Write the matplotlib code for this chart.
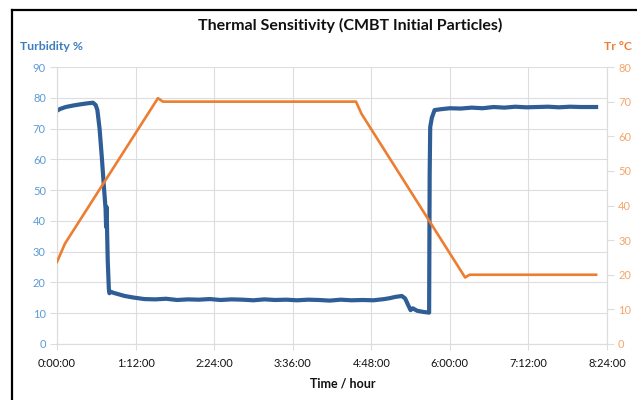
"""Thermal sensitivity chart: turbidity and reactor temperature vs time."""

import matplotlib
matplotlib.use("Agg")
import matplotlib.pyplot as plt
from matplotlib.lines import Line2D
from matplotlib.ticker import FixedLocator, FuncFormatter

# turbidity (%), time in minutes
turb_time = [
    0, 3, 8, 15, 22, 28, 33, 35.5, 37, 39, 41, 43, 44.5, 45, 45.5, 46, 46.5,
    47.5, 48, 49, 52, 56, 62, 70, 80, 90, 100, 110, 120, 130, 140, 150, 160,
    170, 180, 190, 200, 210, 220, 230, 240, 250, 260, 270, 280, 290, 300,
    305, 310, 316, 319, 322, 324, 326, 330, 336, 341, 341.5, 342, 343.5, 346,
    352, 360, 370, 380, 390, 400, 410, 420, 430, 440, 450, 460, 470, 480, 494,
]
turbidity = [
    75.8, 76.4, 77.0, 77.5, 77.9, 78.2, 78.4, 77.6, 76.0, 70.0, 61.0, 51.0,
    44.0, 38.0, 44.5, 35.0, 27.0, 18.0, 16.5, 17.0, 16.6, 16.2, 15.6, 15.1,
    14.6, 14.5, 14.7, 14.3, 14.5, 14.4, 14.6, 14.3, 14.5, 14.4, 14.2, 14.5,
    14.3, 14.4, 14.2, 14.4, 14.3, 14.1, 14.4, 14.2, 14.3, 14.2, 14.6,
    14.9, 15.3, 15.6, 14.8, 12.5, 11.0, 11.6, 10.8, 10.4, 10.2, 55.0, 70.5,
    73.5, 76.0, 76.3, 76.6, 76.5, 76.8, 76.6, 77.0, 76.8, 77.1, 76.9, 77.0,
    77.1, 76.9, 77.1, 77.0, 77.0,
]

# reactor temperature (degC)
temp_time = [0, 7.3, 92.5, 97, 274, 279, 374, 378, 494]
temperature = [23.7, 29.0, 71.0, 70.0, 70.0, 66.5, 19.2, 20.0, 20.0]

x_ticks = [0, 72, 144, 216, 288, 360, 432, 504]

BLUE = "#2F5D95"
ORANGE = "#ED7D31"
GRID = "#DDDDDD"


def hms(v, _pos=None):
    m = int(round(v))
    return f"{m // 60}:{m % 60:02d}:00"


plt.rcParams["font.family"] = ["Lato", "DejaVu Sans"]

fig = plt.figure(figsize=(6.37, 4.0), dpi=100)
ax = fig.add_axes([57 / 637, 56 / 400, 550 / 637, 277 / 400])
ax2 = ax.twinx()

ax.plot(turb_time, turbidity, color=BLUE, lw=3.0, solid_joinstyle="round", zorder=3)
ax2.plot(temp_time, temperature, color=ORANGE, lw=1.9, solid_joinstyle="round", zorder=3)

ax.set_xlim(0, 504)
ax.set_ylim(0, 90)
ax2.set_ylim(0, 80)
ax.xaxis.set_major_locator(FixedLocator(x_ticks))
ax.xaxis.set_major_formatter(FuncFormatter(hms))
ax.set_yticks(range(0, 91, 10))
ax2.set_yticks(range(0, 81, 10))

ax.grid(True, color=GRID, lw=0.8)
ax.set_axisbelow(True)
for a in (ax, ax2):
    for s in a.spines.values():
        s.set_color(GRID)
        s.set_linewidth(0.8)
ax.spines["top"].set_visible(False)
ax2.spines["top"].set_visible(False)

ax.tick_params(axis="x", length=4, color=GRID, labelsize=8, pad=6, labelcolor="#111111")
ax.tick_params(axis="y", length=5, color=GRID, labelsize=8, labelcolor="#5B9BD5", pad=3)
ax2.tick_params(axis="y", length=5, color=GRID, labelsize=8, labelcolor="#F4A56B", pad=3)

fig.text(350 / 637, 1 - 25 / 400, "Thermal Sensitivity (CMBT Initial Particles)",
         ha="center", va="center", fontsize=11.5, fontweight="bold", color="#111111")
fig.text(20 / 637, 1 - 47 / 400, "Turbidity %", ha="left", va="center",
         fontsize=8.8, fontweight="bold", color="#3C7DC0")
fig.text(632 / 637, 1 - 47 / 400, "Tr °C", ha="right", va="center",
         fontsize=8.8, fontweight="bold", color=ORANGE)
fig.text(343 / 637, 1 - 383 / 400, "Time / hour", ha="center", va="center",
         fontsize=9, fontweight="bold", color="#111111")

# chart frame, cropped on the right and bottom
fig.add_artist(Line2D([11.5 / 637, 11.5 / 637], [0, 1 - 10 / 400], color="black", lw=1.6))
fig.add_artist(Line2D([11.5 / 637, 1], [1 - 10 / 400, 1 - 10 / 400], color="black", lw=1.6))

fig.savefig("out.png", dpi=100, facecolor="white")
